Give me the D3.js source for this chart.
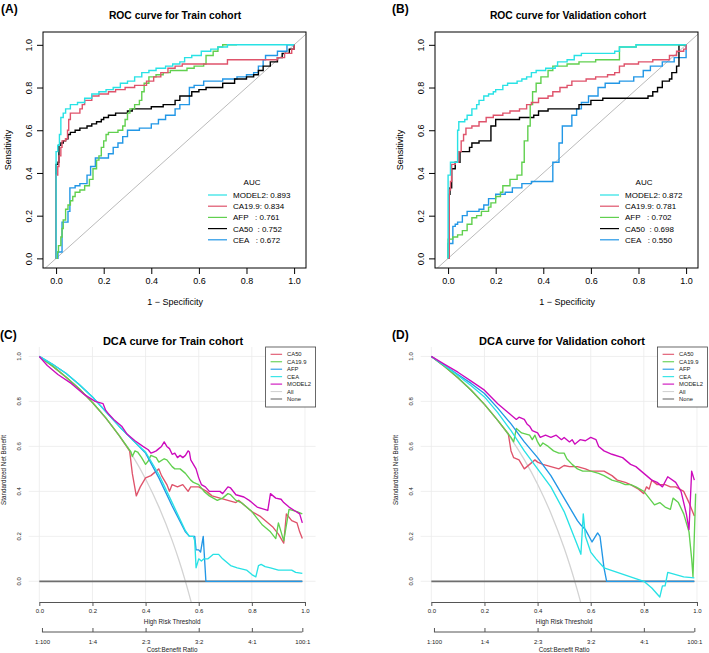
<!DOCTYPE html>
<html><head><meta charset="utf-8">
<script src="https://cdn.jsdelivr.net/npm/d3@7"></script>
<style>body{margin:0;background:#fff} svg{font-family:"Liberation Sans",Arial,sans-serif}</style>
</head><body><svg id="c" width="709" height="653"></svg>
<script>
// ---------- shared ticks / labels ----------
const rocTicks = [0, 0.2, 0.4, 0.6, 0.8, 1.0];
const dcaTicks = [0, 0.2, 0.4, 0.6, 0.8, 1.0];
const costBenefitPos = [0.0099, 0.2, 0.4, 0.6, 0.8, 0.99];
const costBenefitLabels = ["1:100", "1:4", "2:3", "3:2", "4:1", "100:1"];
const rocNames = ["MODEL2", "CA19.9", "AFP", "CA50", "CEA"];
const rocColors = ["#28E2E5", "#DF536B", "#61D04F", "#000000", "#2297E6"];
const trainAucLabels = ["MODEL2: 0.893", "CA19.9: 0.834", "AFP   : 0.761", "CA50  : 0.752", "CEA   : 0.672"];
const validAucLabels = ["MODEL2: 0.872", "CA19.9: 0.781", "AFP   : 0.702", "CA50  : 0.698", "CEA   : 0.550"];
const dcaNames = ["CA50", "CA19.9", "AFP", "CEA", "MODEL2", "All", "None"];
const dcaColors = ["#DF536B", "#61D04F", "#2297E6", "#28E2E5", "#CD0BBC", "#D3D3D3", "#6E6E6E"];

// ---------- ROC train: [1-specificity, sensitivity] ----------
const trainModel2 = [[0,0],[0,0.5],[0.007,0.53],[0.014,0.58],[0.02,0.66],[0.03,0.68],[0.04,0.70],[0.06,0.72],[0.09,0.73],[0.12,0.75],[0.15,0.77],[0.18,0.78],[0.21,0.79],[0.24,0.80],[0.27,0.82],[0.3,0.83],[0.33,0.85],[0.36,0.87],[0.39,0.88],[0.42,0.89],[0.46,0.90],[0.49,0.91],[0.52,0.92],[0.54,0.94],[0.57,0.95],[0.61,0.97],[0.65,0.98],[0.68,0.99],[0.72,1.0],[1,1]];
const trainCA199 = [[0,0],[0,0.39],[0.007,0.43],[0.012,0.48],[0.02,0.52],[0.025,0.55],[0.04,0.56],[0.048,0.6],[0.053,0.65],[0.06,0.68],[0.1,0.7],[0.11,0.72],[0.12,0.74],[0.15,0.76],[0.18,0.77],[0.22,0.78],[0.25,0.79],[0.29,0.80],[0.33,0.81],[0.38,0.83],[0.41,0.85],[0.44,0.87],[0.47,0.89],[0.5,0.9],[0.53,0.91],[0.72,0.93],[0.93,0.94],[0.96,0.96],[0.99,0.98],[1,1]];
const trainAFP = [[0,0],[0.005,0.03],[0.01,0.06],[0.02,0.1],[0.025,0.14],[0.03,0.18],[0.04,0.23],[0.05,0.25],[0.06,0.27],[0.07,0.29],[0.08,0.31],[0.1,0.32],[0.12,0.34],[0.14,0.37],[0.155,0.42],[0.17,0.46],[0.18,0.48],[0.19,0.52],[0.2,0.55],[0.21,0.58],[0.22,0.59],[0.26,0.6],[0.28,0.62],[0.29,0.65],[0.3,0.68],[0.31,0.70],[0.33,0.72],[0.35,0.74],[0.36,0.78],[0.37,0.82],[0.39,0.85],[0.42,0.86],[0.45,0.87],[0.48,0.88],[0.55,0.89],[0.58,0.9],[0.62,0.91],[0.63,0.95],[0.66,0.97],[0.68,0.99],[0.7,1],[0.76,1]];
const trainCA50 = [[0,0],[0,0.44],[0.008,0.45],[0.012,0.53],[0.02,0.54],[0.03,0.55],[0.04,0.56],[0.05,0.58],[0.06,0.59],[0.08,0.6],[0.1,0.61],[0.13,0.62],[0.15,0.63],[0.17,0.64],[0.19,0.65],[0.2,0.66],[0.22,0.67],[0.25,0.68],[0.3,0.69],[0.32,0.70],[0.4,0.71],[0.45,0.72],[0.5,0.74],[0.52,0.76],[0.57,0.78],[0.6,0.79],[0.63,0.80],[0.7,0.82],[0.75,0.84],[0.8,0.85],[0.83,0.86],[0.85,0.88],[0.87,0.9],[0.9,0.92],[0.93,0.94],[0.95,0.96],[0.98,0.98],[1,1]];
const trainCEA = [[0,0],[0.008,0.03],[0.025,0.17],[0.05,0.22],[0.058,0.33],[0.08,0.34],[0.1,0.35],[0.13,0.39],[0.145,0.43],[0.165,0.47],[0.22,0.49],[0.24,0.52],[0.26,0.54],[0.28,0.57],[0.3,0.6],[0.35,0.61],[0.4,0.63],[0.43,0.65],[0.46,0.67],[0.5,0.7],[0.52,0.72],[0.56,0.8],[0.58,0.81],[0.62,0.83],[0.7,0.84],[0.76,0.85],[0.8,0.86],[0.83,0.87],[0.85,0.9],[0.87,0.93],[0.88,0.95],[0.93,0.97],[0.97,1],[1,1]];

// ---------- ROC validation ----------
const validModel2 = [[0,0],[0,0.39],[0.01,0.45],[0.04,0.6],[0.045,0.64],[0.07,0.65],[0.08,0.67],[0.1,0.7],[0.12,0.72],[0.13,0.74],[0.15,0.76],[0.17,0.77],[0.19,0.78],[0.2,0.79],[0.23,0.81],[0.25,0.82],[0.29,0.83],[0.31,0.84],[0.33,0.85],[0.35,0.87],[0.37,0.88],[0.41,0.89],[0.45,0.9],[0.46,0.92],[0.5,0.93],[0.53,0.95],[0.56,0.96],[0.7,0.97],[0.72,0.99],[0.79,1],[1,1]];
const validCA199 = [[0,0],[0.005,0.32],[0.01,0.36],[0.015,0.44],[0.03,0.45],[0.045,0.5],[0.055,0.55],[0.065,0.58],[0.075,0.61],[0.1,0.62],[0.13,0.64],[0.16,0.66],[0.19,0.67],[0.23,0.68],[0.26,0.69],[0.3,0.7],[0.33,0.72],[0.35,0.73],[0.38,0.75],[0.42,0.76],[0.44,0.78],[0.47,0.8],[0.5,0.81],[0.52,0.83],[0.58,0.84],[0.62,0.85],[0.67,0.86],[0.7,0.87],[0.72,0.9],[0.74,0.91],[0.8,0.92],[0.86,0.93],[0.93,0.95],[0.96,0.97],[0.99,0.98],[1,1]];
const validAFP = [[0,0],[0,0.09],[0.02,0.1],[0.04,0.11],[0.06,0.13],[0.08,0.16],[0.1,0.19],[0.12,0.2],[0.14,0.22],[0.17,0.24],[0.18,0.26],[0.2,0.29],[0.22,0.31],[0.23,0.34],[0.26,0.37],[0.29,0.39],[0.31,0.45],[0.32,0.55],[0.335,0.62],[0.345,0.72],[0.355,0.78],[0.37,0.82],[0.39,0.85],[0.42,0.88],[0.44,0.9],[0.5,0.91],[0.55,0.92],[0.62,0.93],[0.72,0.99],[0.79,1],[1,1]];
const validCA50 = [[0,0],[0.005,0.3],[0.008,0.33],[0.015,0.42],[0.03,0.45],[0.05,0.5],[0.09,0.52],[0.1,0.54],[0.13,0.55],[0.18,0.62],[0.2,0.65],[0.3,0.66],[0.36,0.67],[0.38,0.69],[0.42,0.7],[0.55,0.72],[0.6,0.74],[0.65,0.75],[0.84,0.76],[0.86,0.78],[0.88,0.8],[0.9,0.83],[0.93,0.84],[0.94,0.87],[0.96,0.9],[0.97,1],[1,1]];
const validCEA = [[0,0],[0,0.07],[0.02,0.15],[0.03,0.16],[0.04,0.17],[0.06,0.2],[0.08,0.22],[0.13,0.23],[0.15,0.25],[0.17,0.28],[0.2,0.3],[0.24,0.31],[0.27,0.33],[0.31,0.35],[0.35,0.36],[0.44,0.45],[0.466,0.54],[0.48,0.62],[0.52,0.67],[0.54,0.7],[0.56,0.73],[0.59,0.76],[0.63,0.8],[0.66,0.82],[0.72,0.83],[0.78,0.85],[0.82,0.88],[0.85,0.9],[0.9,0.92],[0.95,0.94],[1,1]];

// ---------- DCA train: [threshold, standardized net benefit] ----------
const trainDcaAll = [[0,1],[0.05,0.957],[0.1,0.909],[0.15,0.856],[0.2,0.795],[0.25,0.727],[0.3,0.649],[0.35,0.56],[0.4,0.455],[0.45,0.331],[0.5,0.182],[0.525,0.096],[0.55,0.0],[0.575,-0.107]];
const trainDcaCA50 = [[0,1],[0.05,0.957],[0.1,0.909],[0.15,0.856],[0.2,0.795],[0.25,0.727],[0.3,0.649],[0.34,0.58],[0.35,0.48],[0.365,0.38],[0.38,0.42],[0.4,0.46],[0.42,0.47],[0.44,0.49],[0.45,0.5],[0.46,0.47],[0.47,0.45],[0.48,0.43],[0.49,0.4],[0.5,0.43],[0.52,0.42],[0.54,0.43],[0.56,0.4],[0.57,0.42],[0.6,0.42],[0.63,0.4],[0.65,0.38],[0.68,0.37],[0.71,0.36],[0.74,0.35],[0.75,0.36],[0.78,0.33],[0.8,0.31],[0.83,0.29],[0.86,0.26],[0.88,0.24],[0.9,0.21],[0.92,0.17],[0.93,0.3],[0.95,0.27],[0.97,0.26],[0.98,0.22],[0.99,0.19]];
const trainDcaCA199 = [[0,1],[0.05,0.957],[0.1,0.909],[0.15,0.856],[0.2,0.795],[0.25,0.727],[0.3,0.649],[0.345,0.575],[0.35,0.555],[0.36,0.58],[0.37,0.575],[0.385,0.55],[0.4,0.52],[0.41,0.535],[0.42,0.56],[0.44,0.55],[0.45,0.53],[0.47,0.545],[0.48,0.54],[0.5,0.51],[0.51,0.5],[0.53,0.5],[0.55,0.48],[0.57,0.45],[0.58,0.44],[0.6,0.43],[0.62,0.4],[0.64,0.38],[0.67,0.36],[0.69,0.37],[0.71,0.39],[0.72,0.385],[0.74,0.36],[0.76,0.35],[0.78,0.33],[0.8,0.31],[0.82,0.28],[0.84,0.25],[0.87,0.22],[0.89,0.19],[0.9,0.26],[0.91,0.22],[0.92,0.18],[0.94,0.32],[0.97,0.31],[0.99,0.3]];
const trainDcaAFP = [[0,1],[0.05,0.965],[0.1,0.925],[0.15,0.875],[0.2,0.82],[0.25,0.755],[0.3,0.69],[0.35,0.63],[0.4,0.57],[0.45,0.46],[0.5,0.335],[0.55,0.22],[0.565,0.2],[0.585,0.2],[0.59,0.14],[0.6,0.14],[0.607,0.13],[0.617,0.2],[0.627,0],[0.99,0]];
const trainDcaCEA = [[0,1],[0.05,0.965],[0.1,0.925],[0.15,0.875],[0.2,0.82],[0.25,0.755],[0.3,0.69],[0.35,0.63],[0.4,0.575],[0.45,0.475],[0.5,0.35],[0.55,0.225],[0.565,0.2],[0.58,0.2],[0.585,0.18],[0.59,0.06],[0.6,0.1],[0.61,0.09],[0.62,0.1],[0.635,0.1],[0.645,0.11],[0.655,0.12],[0.675,0.12],[0.69,0.1],[0.7,0.09],[0.72,0.07],[0.745,0.06],[0.78,0.05],[0.8,0.03],[0.815,0.02],[0.825,0.07],[0.835,0.075],[0.85,0.065],[0.87,0.06],[0.9,0.05],[0.95,0.05],[0.965,0.04],[0.99,0.035]];
const trainDcaModel2 = [[0,1],[0.03,0.96],[0.07,0.92],[0.12,0.88],[0.17,0.83],[0.21,0.80],[0.24,0.79],[0.25,0.76],[0.26,0.745],[0.28,0.72],[0.31,0.69],[0.33,0.655],[0.36,0.625],[0.39,0.6],[0.41,0.585],[0.42,0.57],[0.43,0.575],[0.44,0.58],[0.45,0.59],[0.46,0.6],[0.47,0.62],[0.48,0.6],[0.49,0.59],[0.5,0.565],[0.51,0.57],[0.52,0.55],[0.53,0.56],[0.54,0.55],[0.55,0.56],[0.56,0.58],[0.565,0.575],[0.57,0.54],[0.58,0.52],[0.59,0.5],[0.6,0.46],[0.61,0.43],[0.625,0.42],[0.64,0.4],[0.68,0.4],[0.69,0.39],[0.71,0.42],[0.72,0.415],[0.74,0.385],[0.77,0.375],[0.79,0.36],[0.8,0.35],[0.82,0.33],[0.86,0.315],[0.87,0.39],[0.89,0.37],[0.91,0.365],[0.92,0.35],[0.94,0.33],[0.96,0.315],[0.98,0.3],[0.99,0.26]];

// ---------- DCA validation ----------
const validDcaAll = [[0,1],[0.05,0.955],[0.1,0.905],[0.15,0.85],[0.2,0.787],[0.25,0.716],[0.3,0.635],[0.35,0.541],[0.4,0.432],[0.45,0.303],[0.5,0.148],[0.52,0.077],[0.54,0.0],[0.56,-0.084],[0.58,-0.177]];
const validDcaCA50 = [[0,1],[0.05,0.955],[0.1,0.905],[0.15,0.85],[0.2,0.787],[0.25,0.716],[0.29,0.655],[0.3,0.58],[0.31,0.55],[0.33,0.54],[0.35,0.5],[0.37,0.52],[0.39,0.54],[0.4,0.53],[0.42,0.52],[0.45,0.51],[0.48,0.5],[0.5,0.515],[0.52,0.51],[0.55,0.51],[0.58,0.5],[0.6,0.49],[0.63,0.49],[0.65,0.49],[0.68,0.47],[0.7,0.45],[0.73,0.44],[0.75,0.43],[0.78,0.41],[0.8,0.39],[0.81,0.42],[0.82,0.41],[0.83,0.45],[0.85,0.43],[0.88,0.43],[0.9,0.42],[0.92,0.42],[0.95,0.4],[0.97,0.35],[0.99,0.29]];
const validDcaCA199 = [[0,1],[0.05,0.955],[0.1,0.905],[0.15,0.85],[0.2,0.787],[0.25,0.716],[0.29,0.655],[0.3,0.64],[0.31,0.62],[0.32,0.68],[0.34,0.66],[0.37,0.65],[0.38,0.63],[0.39,0.65],[0.4,0.62],[0.41,0.6],[0.42,0.615],[0.44,0.6],[0.46,0.58],[0.48,0.57],[0.5,0.57],[0.51,0.545],[0.53,0.52],[0.55,0.5],[0.57,0.49],[0.6,0.49],[0.63,0.48],[0.65,0.47],[0.68,0.45],[0.71,0.44],[0.73,0.43],[0.75,0.43],[0.77,0.42],[0.8,0.4],[0.82,0.37],[0.84,0.34],[0.86,0.35],[0.88,0.33],[0.9,0.32],[0.91,0.37],[0.93,0.35],[0.95,0.3],[0.97,0.22],[0.98,0.1],[0.985,0.02],[0.99,0.2],[0.995,0.39]];
const validDcaAFP = [[0,1],[0.05,0.96],[0.1,0.92],[0.15,0.88],[0.2,0.835],[0.25,0.77],[0.3,0.7],[0.35,0.62],[0.4,0.55],[0.45,0.47],[0.5,0.37],[0.55,0.27],[0.563,0.25],[0.58,0.23],[0.605,0.175],[0.626,0.215],[0.635,0.2],[0.65,0.06],[0.66,0],[0.99,0]];
const validDcaCEA = [[0,1],[0.05,0.96],[0.1,0.915],[0.15,0.87],[0.2,0.82],[0.25,0.75],[0.3,0.67],[0.35,0.58],[0.4,0.5],[0.45,0.42],[0.5,0.31],[0.55,0.16],[0.563,0.12],[0.572,0.3],[0.58,0.2],[0.6,0.13],[0.62,0.1],[0.65,0.06],[0.7,0.04],[0.75,0.02],[0.8,0.0],[0.83,-0.03],[0.86,-0.07],[0.87,-0.02],[0.88,-0.02],[0.89,0.04],[0.92,0.03],[0.95,0.02],[0.99,0.015]];
const validDcaModel2 = [[0,1],[0.05,0.965],[0.1,0.93],[0.15,0.89],[0.2,0.85],[0.25,0.79],[0.3,0.74],[0.32,0.72],[0.33,0.73],[0.35,0.72],[0.36,0.7],[0.37,0.69],[0.38,0.67],[0.4,0.66],[0.41,0.64],[0.43,0.65],[0.45,0.64],[0.47,0.65],[0.49,0.63],[0.5,0.64],[0.52,0.62],[0.53,0.63],[0.54,0.61],[0.56,0.63],[0.58,0.625],[0.6,0.64],[0.62,0.63],[0.63,0.6],[0.65,0.58],[0.68,0.565],[0.72,0.55],[0.75,0.52],[0.77,0.51],[0.78,0.5],[0.8,0.48],[0.83,0.45],[0.85,0.44],[0.87,0.42],[0.89,0.465],[0.92,0.44],[0.94,0.4],[0.96,0.3],[0.97,0.23],[0.98,0.49],[0.99,0.45]];
const noneLine = [[0,0],[0.99,0]];

const svg = d3.select("#c");
const fmt = d3.format(".1f");

function rocPanel(cfg) {
  const g = svg.append("g");
  const W = 263, top = 32, bot = 268;
  const x = d3.scaleLinear().domain([-0.055, 1.05]).range([cfg.left, cfg.left + W]);
  const y = d3.scaleLinear().domain([-0.045, 1.06]).range([bot, top]);
  const cid = "clip" + cfg.id;
  svg.append("clipPath").attr("id", cid).append("rect")
    .attr("x", cfg.left).attr("y", top).attr("width", W).attr("height", bot - top);
  g.append("line").attr("clip-path", `url(#${cid})`)
    .attr("x1", x(-0.2)).attr("y1", y(-0.2)).attr("x2", x(1.2)).attr("y2", y(1.2))
    .attr("stroke", "#a8a8a8").attr("stroke-width", 0.8);
  const line = d3.line().x(d => x(d[0])).y(d => y(d[1])).curve(d3.curveStepAfter);
  for (let i = cfg.series.length - 1; i >= 0; i--) {
    g.append("path").datum(cfg.series[i]).attr("d", line).attr("fill", "none")
      .attr("stroke", rocColors[i]).attr("stroke-width", 1.4).attr("clip-path", `url(#${cid})`);
  }
  g.append("rect").attr("x", cfg.left).attr("y", top).attr("width", W).attr("height", bot - top)
    .attr("fill", "none").attr("stroke", "#000").attr("stroke-width", 1);
  const xa = g.append("g").attr("transform", `translate(0,${bot})`)
    .call(d3.axisBottom(x).tickValues(rocTicks).tickFormat(fmt).tickSize(6).tickPadding(4));
  xa.select(".domain").remove();
  xa.selectAll("text").attr("font-size", 9).attr("font-family", "Liberation Sans, Arial");
  const ya = g.append("g").attr("transform", `translate(${cfg.left},0)`)
    .call(d3.axisLeft(y).tickValues(rocTicks).tickFormat(fmt).tickSize(6).tickPadding(4));
  ya.select(".domain").remove();
  ya.selectAll("text").attr("font-size", 9).attr("font-family", "Liberation Sans, Arial")
    .attr("text-anchor", "middle").attr("x", -14).attr("y", 0).attr("dy", "0.32em")
    .attr("transform", "rotate(-90,-14,0)");
  g.append("text").attr("x", cfg.left - 32).attr("y", (top + bot) / 2).attr("font-size", 9)
    .attr("text-anchor", "middle").attr("transform", `rotate(-90,${cfg.left - 32},${(top + bot) / 2})`)
    .text("Sensitivity");
  g.append("text").attr("x", x(0.5)).attr("y", 305).attr("font-size", 9).attr("text-anchor", "middle")
    .text("1 \u2212 Specificity");
  g.append("text").attr("x", cfg.titleX).attr("y", 19).attr("font-size", 10.3).attr("font-weight", "bold")
    .attr("text-anchor", "middle").text(cfg.title);
  g.append("text").attr("x", cfg.letterX).attr("y", 13).attr("font-size", 12).attr("font-weight", "bold")
    .text(cfg.letter);
  // legend
  const lx = cfg.left + 165;
  g.append("text").attr("x", lx + 44).attr("y", 185).attr("font-size", 8).attr("text-anchor", "middle").text("AUC");
  cfg.labels.forEach((t, i) => {
    const yy = 195 + i * 11.2;
    g.append("line").attr("x1", lx).attr("x2", lx + 19).attr("y1", yy).attr("y2", yy)
      .attr("stroke", rocColors[i]).attr("stroke-width", 1.2);
    g.append("text").attr("x", lx + 25).attr("y", yy + 2.9).attr("font-size", 8)
      .attr("xml:space", "preserve").style("white-space", "pre").text(t);
  });
}

function dcaPanel(cfg) {
  const g = svg.append("g");
  const top = 347, bot = 602;
  const x = d3.scaleLinear().domain([-0.04, 1.04]).range([cfg.left, cfg.right]);
  const y = d3.scaleLinear().domain([-0.092, 1.042]).range([bot, top]);
  const cid = "clip" + cfg.id;
  svg.append("clipPath").attr("id", cid).append("rect")
    .attr("x", cfg.left).attr("y", top).attr("width", cfg.right - cfg.left).attr("height", bot - top);
  dcaTicks.forEach(t => {
    g.append("line").attr("x1", x(t)).attr("x2", x(t)).attr("y1", top).attr("y2", bot)
      .attr("stroke", "#ebebeb").attr("stroke-width", 0.8);
    g.append("line").attr("x1", cfg.left).attr("x2", cfg.right).attr("y1", y(t)).attr("y2", y(t))
      .attr("stroke", "#ebebeb").attr("stroke-width", 0.8);
  });
  const line = d3.line().x(d => x(d[0])).y(d => y(d[1]));
  const smooth = d3.line().x(d => x(d[0])).y(d => y(d[1])).curve(d3.curveMonotoneX);
  g.append("path").datum(cfg.all).attr("d", smooth).attr("fill", "none").attr("stroke", dcaColors[5])
    .attr("stroke-width", 1.3).attr("clip-path", `url(#${cid})`);
  g.append("path").datum(noneLine).attr("d", line).attr("fill", "none").attr("stroke", dcaColors[6])
    .attr("stroke-width", 1.8);
  cfg.series.forEach((s, i) => {
    g.append("path").datum(s).attr("d", line).attr("fill", "none").attr("stroke", dcaColors[i])
      .attr("stroke-width", 1.35).attr("stroke-linejoin", "round").attr("clip-path", `url(#${cid})`);
  });
  const ax = d3.scaleLinear().domain([0, 1]).range([x(0), x(1)]);
  const xa = g.append("g").attr("transform", `translate(0,${bot})`)
    .call(d3.axisBottom(ax).tickValues(dcaTicks).tickFormat(fmt).tickSize(4).tickSizeOuter(0).tickPadding(3));
  xa.selectAll("path,line").attr("stroke", "#555");
  xa.selectAll("text").attr("font-size", 6).attr("fill", "#222");
  g.append("text").attr("x", x(0.5)).attr("y", 624).attr("font-size", 6.3).attr("text-anchor", "middle")
    .attr("fill", "#222").text("High Risk Threshold");
  const xb = g.append("g").attr("transform", `translate(0,632)`)
    .call(d3.axisBottom(ax.copy().domain([0, 1])).tickValues(costBenefitPos)
      .tickFormat((d, i) => costBenefitLabels[i]).tickSize(-4).tickSizeOuter(0).tickPadding(8));
  xb.select(".domain").attr("d", `M${x(costBenefitPos[0])},0H${x(costBenefitPos[5])}`);
  xb.selectAll("path,line").attr("stroke", "#555");
  xb.selectAll("text").attr("font-size", 6).attr("fill", "#222");
  g.append("text").attr("x", x(0.5)).attr("y", 652).attr("font-size", 6.3).attr("text-anchor", "middle")
    .attr("fill", "#222").text("Cost:Benefit Ratio");
  dcaTicks.forEach(t => {
    const tx = cfg.left - 9.5;
    g.append("text").attr("x", tx).attr("y", y(t)).attr("dy", "0.35em").attr("font-size", 6)
      .attr("text-anchor", "middle").attr("fill", "#222")
      .attr("transform", `rotate(-90,${tx},${y(t)})`).text(fmt(t));
  });
  const ylx = cfg.left - 23;
  g.append("text").attr("x", ylx).attr("y", 470).attr("font-size", 6.3).attr("text-anchor", "middle")
    .attr("fill", "#222").attr("transform", `rotate(-90,${ylx},470)`).text("Standardized Net Benefit");
  g.append("text").attr("x", cfg.titleX).attr("y", 345).attr("font-size", 11).attr("font-weight", "bold")
    .attr("text-anchor", "middle").text(cfg.title);
  g.append("text").attr("x", cfg.letterX).attr("y", 339).attr("font-size", 12).attr("font-weight", "bold")
    .text(cfg.letter);
  // legend
  const lr = cfg.right, ll = lr - 50;
  g.append("rect").attr("x", ll).attr("y", top).attr("width", 50).attr("height", 60)
    .attr("fill", "#fff").attr("stroke", "#444").attr("stroke-width", 0.8);
  dcaNames.forEach((n, i) => {
    const yy = 354.3 + i * 7.45;
    g.append("line").attr("x1", ll + 5).attr("x2", ll + 16.5).attr("y1", yy).attr("y2", yy)
      .attr("stroke", dcaColors[i]).attr("stroke-width", 1.1);
    g.append("text").attr("x", ll + 21.5).attr("y", yy + 2.1).attr("font-size", 5.8).attr("fill", "#222").text(n);
  });
}

rocPanel({id: "A", left: 43, title: "ROC curve for Train cohort", titleX: 175, letter: "(A)", letterX: 1,
  series: [trainModel2, trainCA199, trainAFP, trainCA50, trainCEA], labels: trainAucLabels});
rocPanel({id: "B", left: 435, title: "ROC curve for Validation cohort", titleX: 568, letter: "(B)", letterX: 392,
  series: [validModel2, validCA199, validAFP, validCA50, validCEA], labels: validAucLabels});
dcaPanel({id: "C", left: 28.7, right: 315.6, title: "DCA curve for Train cohort", titleX: 173, letter: "(C)", letterX: 0,
  all: trainDcaAll, series: [trainDcaCA50, trainDcaCA199, trainDcaAFP, trainDcaCEA, trainDcaModel2]});
dcaPanel({id: "D", left: 420.7, right: 707.6, title: "DCA curve for Validation cohort", titleX: 562, letter: "(D)", letterX: 392,
  all: validDcaAll, series: [validDcaCA50, validDcaCA199, validDcaAFP, validDcaCEA, validDcaModel2]});
</script></body></html>
